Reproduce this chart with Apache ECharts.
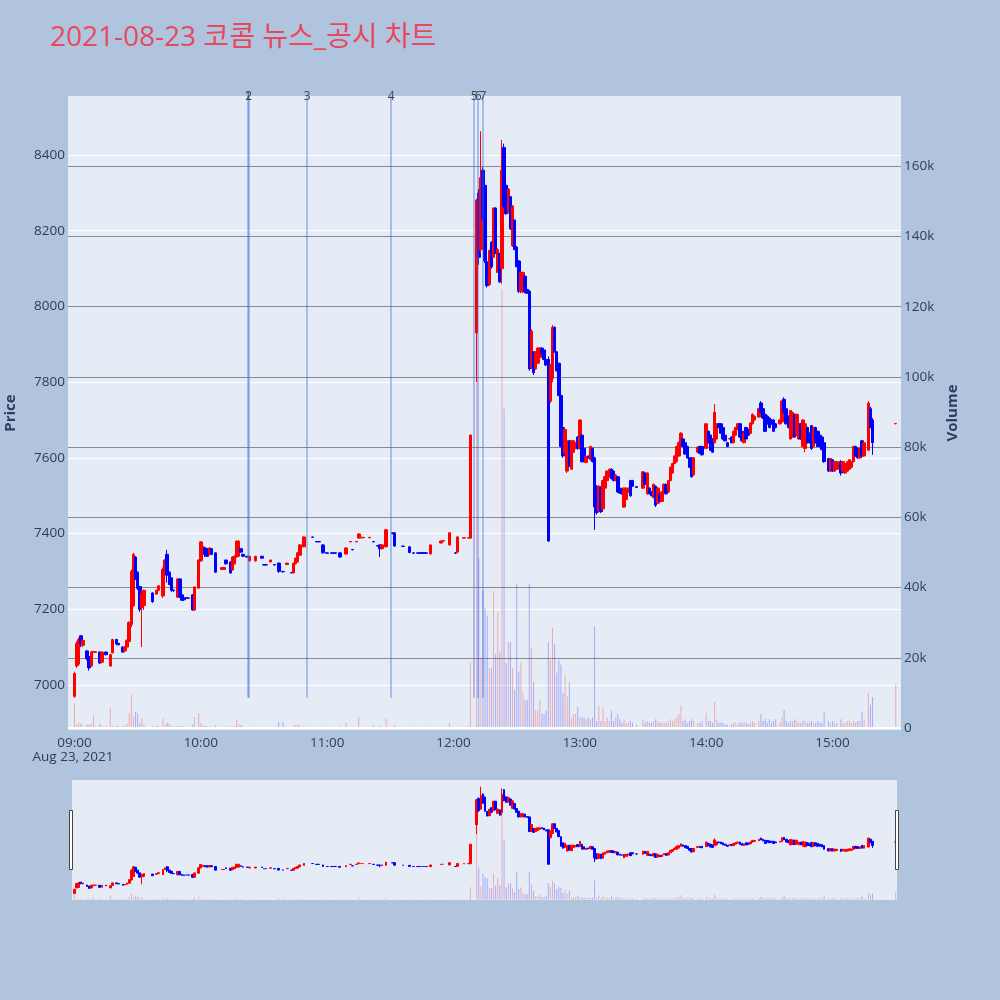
<!DOCTYPE html>
<html><head><meta charset="utf-8">
<script src="https://cdn.jsdelivr.net/npm/echarts@6/dist/echarts.min.js"></script>
<style>html,body{margin:0;padding:0;background:#b0c4de;}#c{width:1000px;height:1000px;}</style>
</head><body><div id="c"></div><script>
const titleText = '2021-08-23 코콤 뉴스_공시 차트';
const dateLabel = 'Aug 23, 2021';

const times = [
'09:00','09:01','09:02','09:03','09:04','09:06','09:07','09:08','09:09','09:10',
'09:12','09:13','09:15','09:17','09:18','09:20','09:21','09:23','09:24','09:25',
'09:26','09:27','09:28','09:29','09:30','09:31','09:32','09:33','09:37','09:39',
'09:40','09:42','09:43','09:44','09:45','09:46','09:47','09:49','09:50','09:51',
'09:52','09:53','09:54','09:56','09:57','09:59',
'10:00','10:01','10:02','10:03','10:04','10:05','10:07','10:10','10:11','10:12',
'10:14','10:15','10:16','10:17','10:18','10:19','10:20','10:22','10:23','10:26',
'10:29','10:30','10:31','10:33','10:35','10:37','10:39','10:41','10:43','10:44',
'10:45','10:46','10:47','10:49','10:53','10:55','10:56','10:58',
'11:00','11:02','11:03','11:04','11:06','11:09','11:11','11:12','11:14','11:15',
'11:16','11:17','11:20','11:22','11:24','11:25','11:26','11:28','11:31','11:32',
'11:36','11:39','11:41','11:43','11:44','11:45','11:46','11:47','11:49','11:54',
'11:55','11:58','12:01','12:02','12:05','12:07',
'12:08','12:11','12:12','12:13','12:14','12:15','12:16','12:17','12:18','12:19',
'12:20','12:21','12:22','12:23','12:24','12:25','12:26','12:27','12:28','12:29',
'12:30','12:31','12:32','12:33','12:34','12:35','12:36','12:37','12:38','12:39',
'12:40','12:41','12:42','12:43','12:44','12:45','12:46','12:47','12:48','12:49',
'12:50','12:51','12:52','12:53','12:54','12:55','12:56','12:57','12:58','12:59',
'13:00','13:01','13:02','13:03','13:04','13:05','13:06','13:07','13:08','13:09',
'13:10','13:11','13:12','13:13','13:14','13:15','13:16','13:17','13:18','13:19',
'13:20','13:21','13:22','13:23','13:24','13:25','13:27','13:30','13:31','13:32',
'13:33','13:34','13:35','13:36','13:37','13:38','13:39','13:40','13:41','13:42',
'13:43','13:44','13:45','13:46','13:47','13:48','13:49','13:50','13:51','13:52',
'13:53','13:54','13:56','13:57','13:58',
'14:00','14:01','14:02','14:03','14:04','14:05','14:06','14:07','14:08','14:09',
'14:10','14:11','14:12','14:13','14:14','14:15','14:16','14:17','14:18','14:19',
'14:20','14:21','14:22','14:23','14:25','14:26','14:27','14:28','14:29','14:30',
'14:31','14:32','14:33','14:35','14:36','14:37','14:38','14:39','14:40','14:41',
'14:42','14:43','14:44','14:45','14:46','14:47','14:48','14:49','14:50','14:51',
'14:52','14:53','14:54','14:55','14:56','14:58','14:59',
'15:00','15:01','15:02','15:04','15:05','15:06','15:07','15:08','15:09','15:10',
'15:11','15:12','15:13','15:14','15:15','15:17','15:18','15:19','15:30'
];
const opens = [
6970,7050,7055,7130,7105,7090,7075,7050,7087,7086,
7087,7060,7087,7050,7085,7120,7110,7100,7090,7100,
7115,7160,7210,7338,7298,7260,7205,7210,7243,7240,
7250,7235,7305,7345,7298,7283,7251,7232,7280,7238,
7230,7230,7230,7238,7198,7256,
7328,7350,7362,7360,7345,7360,7349,7305,7305,7330,
7325,7304,7320,7338,7340,7360,7345,7340,7328,7328,
7340,7318,7318,7325,7318,7322,7300,7318,7297,7296,
7320,7325,7343,7365,7391,7379,7379,7370,
7349,7349,7349,7349,7349,7346,7378,7358,7378,7388,
7389,7389,7389,7379,7368,7370,7360,7365,7402,7402,
7367,7365,7349,7349,7349,7349,7349,7349,7346,7375,
7380,7370,7349,7351,7388,7388,
7388,7930,8300,8150,8360,8320,8118,8058,8170,8130,
8260,8090,8140,8100,8420,8320,8248,8290,8160,8228,
8157,8120,8040,8038,8080,8045,8040,7840,7880,7835,
7850,7865,7890,7885,7860,7860,7750,7810,7945,7880,
7850,7765,7680,7613,7565,7645,7570,7615,7625,7655,
7625,7660,7625,7588,7605,7595,7625,7600,7525,7460,
7522,7465,7520,7540,7550,7570,7565,7540,7550,7520,
7510,7470,7490,7510,7540,7540,7524,7520,7560,7505,
7520,7510,7495,7525,7480,7505,7485,7510,7530,7510,
7540,7560,7585,7590,7605,7630,7650,7640,7630,7600,
7600,7555,7615,7630,7630,
7625,7670,7660,7650,7640,7650,7690,7690,7680,7660,
7640,7650,7655,7640,7660,7675,7690,7670,7640,7680,
7675,7665,7690,7700,7708,7745,7730,7715,7710,7705,
7700,7700,7690,7690,7695,7755,7730,7710,7650,7655,
7715,7660,7650,7690,7630,7625,7680,7665,7685,7630,
7680,7670,7660,7655,7640,7598,7565,
7595,7565,7570,7590,7565,7560,7565,7570,7575,7590,
7630,7625,7600,7645,7605,7620,7730,7700,7690
];
const closes = [
7030,7110,7120,7110,7118,7070,7045,7087,7088,7088,
7058,7087,7080,7080,7120,7108,7106,7087,7100,7118,
7165,7300,7345,7280,7255,7200,7240,7250,7220,7250,
7262,7305,7330,7290,7265,7250,7249,7280,7232,7224,
7225,7229,7229,7198,7259,7330,
7378,7365,7345,7340,7362,7345,7298,7310,7310,7320,
7296,7338,7340,7380,7380,7351,7340,7338,7340,7340,
7335,7317,7317,7330,7317,7300,7299,7322,7296,7322,
7335,7349,7370,7391,7390,7378,7378,7349,
7348,7348,7348,7348,7338,7362,7379,7357,7379,7399,
7390,7390,7390,7378,7367,7360,7370,7410,7400,7367,
7366,7350,7348,7348,7348,7348,7348,7348,7370,7380,
7381,7402,7348,7391,7389,7389,
7660,8281,8130,8340,8230,8120,8055,8148,8105,8260,
8140,8150,8065,8360,8265,8245,8310,8205,8265,8150,
8105,8040,8090,8090,8040,8035,7835,7935,7825,7880,
7890,7890,7875,7860,7845,7380,7845,7945,7880,7830,
7765,7630,7605,7675,7645,7578,7645,7645,7640,7625,
7700,7590,7590,7603,7600,7630,7590,7470,7455,7525,
7458,7540,7550,7565,7570,7545,7540,7555,7510,7507,
7505,7520,7520,7520,7500,7525,7522,7563,7530,7560,
7505,7500,7530,7475,7520,7485,7510,7530,7505,7540,
7575,7585,7605,7630,7640,7665,7630,7610,7600,7575,
7550,7600,7628,7612,7608,
7690,7640,7620,7615,7720,7690,7680,7665,7650,7645,
7630,7651,7640,7670,7680,7690,7655,7645,7665,7650,
7660,7692,7715,7710,7730,7720,7705,7670,7690,7680,
7690,7670,7680,7700,7750,7720,7690,7680,7725,7720,
7655,7715,7690,7650,7700,7690,7640,7640,7625,7680,
7640,7630,7630,7622,7590,7565,7598,
7565,7590,7590,7560,7590,7585,7590,7595,7590,7630,
7605,7600,7625,7605,7640,7745,7680,7640,7691
];
const lows = [
6966,7045,7050,7100,7100,7065,7038,7048,7085,7085,
7055,7058,7078,7048,7083,7105,7105,7085,7088,7098,
7113,7153,7206,7277,7251,7193,7100,7198,7217,7238,
7248,7230,7303,7270,7264,7246,7246,7230,7230,7222,
7222,7228,7228,7196,7196,7254,
7325,7348,7338,7338,7343,7343,7296,7304,7304,7318,
7294,7302,7318,7336,7338,7349,7338,7337,7326,7326,
7334,7316,7316,7324,7316,7296,7297,7317,7295,7295,
7318,7324,7342,7364,7389,7377,7377,7347,
7347,7347,7347,7347,7336,7345,7377,7356,7377,7387,
7388,7388,7388,7377,7366,7338,7358,7363,7398,7365,
7365,7348,7347,7347,7347,7347,7347,7347,7345,7374,
7379,7368,7347,7349,7387,7387,
7386,7800,8110,8140,8225,8115,8050,8055,8100,8128,
8138,8088,8062,8060,8260,8242,8246,8202,8157,8149,
8104,8035,8035,8035,8035,8033,7830,7835,7819,7833,
7848,7863,7873,7858,7843,7378,7745,7800,7878,7828,
7763,7628,7600,7610,7560,7576,7568,7613,7623,7621,
7623,7588,7588,7586,7598,7593,7588,7410,7450,7455,
7454,7462,7515,7538,7548,7543,7538,7538,7507,7505,
7503,7468,7488,7508,7497,7523,7521,7518,7528,7503,
7503,7498,7493,7470,7478,7483,7483,7508,7503,7508,
7538,7558,7583,7588,7603,7628,7628,7608,7598,7573,
7548,7553,7613,7610,7606,
7623,7638,7618,7613,7638,7648,7678,7663,7648,7643,
7628,7649,7638,7638,7658,7673,7653,7643,7638,7648,
7658,7663,7688,7698,7706,7718,7703,7668,7688,7678,
7688,7668,7678,7688,7693,7718,7688,7678,7648,7653,
7653,7658,7648,7648,7628,7615,7638,7638,7621,7628,
7638,7628,7628,7620,7587,7563,7563,
7563,7563,7568,7553,7563,7558,7563,7568,7573,7588,
7603,7598,7598,7600,7603,7618,7678,7608,7689
];
const highs = [
7035,7115,7125,7132,7120,7092,7078,7090,7090,7089,
7088,7088,7088,7082,7122,7122,7110,7102,7102,7120,
7168,7305,7349,7340,7300,7262,7250,7252,7245,7252,
7264,7310,7332,7357,7300,7285,7252,7282,7282,7240,
7232,7231,7231,7240,7260,7332,
7380,7368,7364,7362,7364,7362,7350,7311,7311,7331,
7327,7340,7342,7382,7382,7362,7347,7341,7341,7341,
7341,7318,7318,7331,7318,7323,7300,7323,7297,7323,
7336,7350,7372,7393,7392,7379,7379,7372,
7350,7350,7350,7350,7350,7364,7380,7358,7380,7400,
7390,7390,7390,7379,7369,7372,7372,7412,7403,7403,
7367,7366,7350,7350,7350,7350,7350,7350,7371,7381,
7381,7403,7350,7393,7389,7389,
7662,8285,8310,8463,8368,8325,8120,8150,8172,8262,
8262,8154,8142,8440,8430,8329,8313,8292,8268,8230,
8160,8123,8091,8092,8082,8046,8043,7940,7882,7882,
7892,7892,7892,7887,7862,7868,7848,7951,7947,7882,
7852,7767,7682,7679,7647,7647,7647,7647,7642,7657,
7702,7662,7627,7605,7606,7632,7627,7603,7528,7528,
7524,7542,7552,7567,7572,7572,7567,7557,7552,7522,
7512,7522,7522,7522,7542,7542,7525,7565,7562,7562,
7522,7512,7532,7527,7522,7507,7512,7532,7532,7542,
7577,7587,7607,7632,7643,7668,7652,7642,7632,7602,
7602,7602,7630,7632,7632,
7692,7672,7662,7652,7742,7692,7692,7692,7682,7662,
7642,7652,7657,7672,7682,7692,7692,7672,7667,7682,
7677,7694,7717,7712,7732,7750,7732,7717,7712,7707,
7702,7702,7692,7702,7752,7760,7732,7712,7727,7722,
7717,7717,7692,7692,7702,7692,7682,7667,7687,7682,
7682,7672,7662,7657,7642,7600,7600,
7597,7592,7592,7594,7592,7587,7592,7597,7592,7632,
7632,7627,7627,7647,7642,7750,7735,7705,7692
];
const volumes = [
7000,1000,1500,1200,800,1000,1000,1200,3700,500,
1200,800,600,5700,800,600,400,600,700,1200,
4300,9400,3300,4600,4300,1500,2900,1000,600,800,
500,2600,1000,1500,1200,600,400,800,600,500,
400,300,300,1000,3100,4300,
1500,800,600,500,500,400,800,300,300,400,
600,500,600,2500,1000,800,500,300,400,300,
300,200,200,200,200,1700,1700,300,300,600,
900,900,800,600,200,200,200,500,
300,300,300,300,500,1400,200,200,200,3100,
300,300,300,800,300,500,400,2600,300,800,
200,400,200,200,200,200,200,200,400,300,
300,1400,300,400,200,500,
18500,101000,48500,20000,39000,34000,32000,17000,17000,39000,
21000,33000,21600,125000,91000,18500,24500,24500,17000,11000,
41000,16000,18500,10000,8000,8000,41000,23000,13000,5000,
5000,8000,4000,4000,5000,24500,19400,28500,24000,15700,
19400,18000,10000,15000,9000,13000,3000,4000,4000,6000,
3000,3000,3000,2500,3000,2500,3000,29000,2000,6500,
2000,6000,2000,3000,2000,5000,2000,3000,4000,2500,
1500,2500,1500,1500,2000,1500,1000,2500,1500,2000,
1500,1500,2000,2500,2000,1500,1500,1500,1500,2000,
2500,2000,2500,3000,4000,6500,2000,2500,1500,2000,
2500,2000,1500,1500,2000,
4300,2000,2000,1500,7400,2500,1500,1500,1500,1000,
1000,500,1000,1500,1500,1000,1500,1500,1500,1500,
1000,1500,2000,1500,2000,4000,2000,2500,1500,2500,
1500,2000,2500,1500,3000,5100,2000,1500,2000,2000,
2500,2000,1500,1500,2500,2000,1500,1500,2000,1500,
1500,2000,1500,1500,4600,2000,1500,
2000,1500,1500,2500,1500,1500,2000,2000,1500,2000,
1500,2000,2000,4600,2500,10000,6600,8800,12300
];
const newsLabels = ['1','2','3','4','5','6','7'];
const newsTimes = ['10:22:20','10:22:40','10:50:30','11:30:25','12:09:45','12:11:40','12:14:00'];

function ts(s){ const p = s.split(':').map(Number); return new Date(2021,7,23,p[0],p[1],p[2]||0).getTime(); }
function pad(n){ return (n<10?'0':'')+n; }

const FONT = "'Open Sans', 'Noto Sans CJK KR', sans-serif";
const AXIS_COLOR = '#2a3f5f';
const UP = '#ff0000', DOWN = '#0000ff';

const candleData = times.map((t,i)=>[ts(t), opens[i], closes[i], lows[i], highs[i]]);
const volData = times.map((t,i)=>({value:[ts(t), volumes[i]], itemStyle:{color: closes[i]>=opens[i] ? 'rgba(255,0,0,0.28)' : 'rgba(0,0,255,0.28)'}}));

const priceMin = 6881, priceMax = 8556;
const volMin = -570, volMax = 180000;
const mainXMin = ts('08:57:09'), mainXMax = ts('15:32:16');
const slideXMin = ts('08:59:03'), slideXMax = ts('15:30:22');

const chart = echarts.init(document.getElementById('c'), null, {renderer:'canvas'});
chart.setOption({
  animation: false,
  backgroundColor: '#b0c4de',
  textStyle: {fontFamily: FONT},
  graphic: [
    {type:'text', left: 50, top: 24, style:{text: titleText, fill:'#e8475e', font: "28px " + FONT}},
    {type:'text', x: 73, y: 757, style:{text: dateLabel, fill: AXIS_COLOR, font: "13.5px " + FONT, textAlign:'center', textVerticalAlign:'middle'}},
    {type:'rect', shape:{x:69.5, y:810.5, width:3, height:59}, style:{fill:'#fff', stroke:'#444', lineWidth:1}, z: 100},
    {type:'rect', shape:{x:895.5, y:810.5, width:3, height:59}, style:{fill:'#fff', stroke:'#444', lineWidth:1}, z: 100}
  ],
  grid: [
    {left: 68, top: 96, width: 833, height: 634, show: true, backgroundColor: '#e5ecf6', borderWidth: 0, containLabel: false, outerBoundsMode: 'none'},
    {left: 72, top: 780, width: 825, height: 120, show: true, backgroundColor: '#e5ecf6', borderWidth: 0, containLabel: false, outerBoundsMode: 'none'}
  ],
  xAxis: [
    {type:'time', gridIndex:0, min: mainXMin, max: mainXMax, minInterval: 3600000, maxInterval: 3600000,
     axisLine:{show:false}, axisTick:{show:false}, splitLine:{show:false},
     axisLabel:{color: AXIS_COLOR, fontSize: 13.5, margin: 6, hideOverlap: false,
       formatter: v => { const d = new Date(v); return pad(d.getHours()) + ':' + pad(d.getMinutes()); }}},
    {type:'time', gridIndex:1, min: slideXMin, max: slideXMax, show: false}
  ],
  yAxis: [
    {type:'value', gridIndex:0, position:'left', min: priceMin, max: priceMax, minInterval: 200, maxInterval: 200, splitNumber: 8,
     name:'Price', nameLocation:'middle', nameRotate: 90, nameGap: 50,
     nameTextStyle:{color: AXIS_COLOR, fontSize: 15, fontWeight:'bold'},
     axisLine:{show:false}, axisTick:{show:false},
     axisLabel:{color: AXIS_COLOR, fontSize: 13.5, margin: 3, showMinLabel:false, showMaxLabel:false, formatter: v => String(v)},
     splitLine:{show:true, showMinLine:false, showMaxLine:false, lineStyle:{color:'#ffffff', width:1}}},
    {type:'value', gridIndex:0, position:'right', min: volMin, max: volMax, minInterval: 20000, maxInterval: 20000, splitNumber: 9,
     name:'Volume', nameLocation:'middle', nameRotate: 90, nameGap: 44,
     nameTextStyle:{color: AXIS_COLOR, fontSize: 15, fontWeight:'bold'},
     axisLine:{show:false}, axisTick:{show:false},
     axisLabel:{color: AXIS_COLOR, fontSize: 13.5, margin: 3, showMinLabel:false, showMaxLabel:false,
       formatter: v => v === 0 ? '0' : Math.round(v/1000) + 'k'},
     splitLine:{show:true, showMinLine:false, showMaxLine:false, lineStyle:{color:'#8a8a8a', width:1}}},
    {type:'value', gridIndex:1, min: priceMin, max: priceMax, show:false, splitLine:{show:false}},
    {type:'value', gridIndex:1, min: volMin, max: volMax, show:false, splitLine:{show:false}}
  ],
  series: [
    {type:'candlestick', name:'price', xAxisIndex:0, yAxisIndex:0, data: candleData, encode:{x:0, y:[1,2,3,4]},
     barWidth: 3,
     itemStyle:{color: UP, color0: DOWN, borderColor: UP, borderColor0: DOWN, borderWidth: 1},
     markLine:{symbol:['none','none'], silent:true,
       lineStyle:{color:'rgba(65,105,225,0.5)', width:1.5, type:'solid'},
       label:{show:true, position:'end', color:'#444', fontSize:12, distance: -7, formatter:'{b}'},
       emphasis:{disabled:true},
       data: newsTimes.map((t,i)=>[{coord:[ts(t), 6966], name: newsLabels[i]}, {coord:[ts(t), priceMax]}])}},
    {type:'bar', name:'volume', xAxisIndex:0, yAxisIndex:1, data: volData, barWidth: 1,
     markLine:{symbol:['none','none'], silent:true, label:{show:false}, lineStyle:{color:'#ffffff', width:2, type:'solid'},
       data:[{yAxis:0}]}},
    {type:'candlestick', xAxisIndex:1, yAxisIndex:2, data: candleData, encode:{x:0, y:[1,2,3,4]}, barWidth: 2.2,
     itemStyle:{color: UP, color0: DOWN, borderColor: UP, borderColor0: DOWN, borderWidth: 1}},
    {type:'bar', xAxisIndex:1, yAxisIndex:3, data: volData, barWidth: 1}
  ]
});
</script></body></html>
